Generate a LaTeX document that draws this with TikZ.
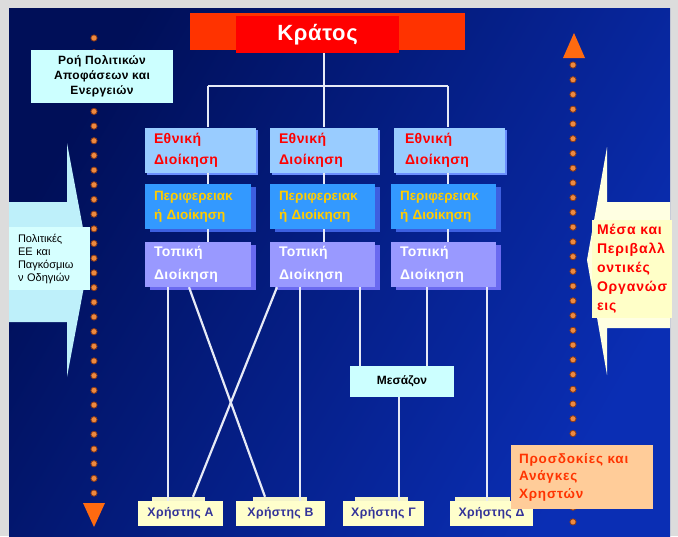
\documentclass[tikz,border=0pt]{standalone}
\usepackage{fontspec}
\setmainfont{Liberation Sans}
\newfontfamily\widefont[LetterSpace=6]{Liberation Sans}
\newfontfamily\midfont[LetterSpace=3]{Liberation Sans}
\usetikzlibrary{shadows}
\definecolor{bggray}{HTML}{DCDCDC}
\definecolor{bgA}{HTML}{000F58}
\definecolor{bgB}{HTML}{0A2EB4}
\definecolor{krorange}{HTML}{FF3300}
\definecolor{krred}{HTML}{FF0000}
\definecolor{ethfill}{HTML}{99CCFF}
\definecolor{ethtext}{HTML}{FF0000}
\definecolor{perfill}{HTML}{3399FF}
\definecolor{pertext}{HTML}{FFCC00}
\definecolor{pershadow}{HTML}{3D5FE0}
\definecolor{topfill}{HTML}{9999FF}
\definecolor{topshadow}{HTML}{6A6AF0}
\definecolor{connc}{HTML}{E6EAF6}
\definecolor{cyanbox}{HTML}{CCFFFF}
\definecolor{cyanarrow}{HTML}{BEF0FA}
\definecolor{yelbox}{HTML}{FFFFC8}
\definecolor{yelarrow}{HTML}{FFFFE2}
\definecolor{userfill}{HTML}{FFFFCC}
\definecolor{userback}{HTML}{F4F4C8}
\definecolor{usertext}{HTML}{333399}
\definecolor{peach}{HTML}{FFCC99}
\definecolor{peachtext}{HTML}{FF3300}
\definecolor{dotfill}{HTML}{EE8A40}
\definecolor{dotring}{HTML}{8A3A18}
\definecolor{tric}{HTML}{FF6A10}
\begin{document}
\begin{tikzpicture}[x=1pt,y=-1pt,
  conn/.style={draw=connc,line width=2.2pt},
  adminbox/.style={rectangle,inner ysep=0pt,inner xsep=9pt,text width=92pt,align=left,minimum height=45pt},
  ebox/.style={adminbox,fill=ethfill,text=ethtext,font=\midfont\fontsize{14}{21}\selectfont\bfseries,
     drop shadow={shadow xshift=2pt,shadow yshift=-2pt,fill=ethfill!70!blue,opacity=1}},
  pbox/.style={adminbox,text width=88pt,fill=perfill,text=pertext,font=\fontsize{13.5}{18.5}\selectfont\bfseries,
     drop shadow={shadow xshift=5pt,shadow yshift=-3pt,fill=pershadow,opacity=1}},
  tbox/.style={adminbox,text width=88pt,fill=topfill,text=white,font=\midfont\fontsize{14}{23}\selectfont\bfseries,
     drop shadow={shadow xshift=5pt,shadow yshift=-3pt,fill=topshadow,opacity=1}},
  userbox/.style={rectangle,fill=userfill,text=usertext,font=\midfont\fontsize{12.3}{14}\selectfont\bfseries,
     inner sep=0pt,minimum height=25pt},
  dotstyle/.style={fill=dotfill,draw=dotring,line width=0.8pt}
]
\useasboundingbox (0,0) rectangle (678,536);
\fill[bggray] (0,0) rectangle (678,536);
\shade[left color=bgA,right color=bgB,shading angle=60] (9,8) rectangle (670,536);

% big side arrows
\fill[cyanarrow] (9,202) -- (67,202) -- (67,143) -- (89,260) -- (67,377) -- (67,322) -- (9,322) -- cycle;
\fill[yelarrow] (670,202) -- (607,202) -- (607,147) -- (587,260) -- (607,375) -- (607,328) -- (670,328) -- cycle;

% dotted flow arrows
\foreach \i in {0,...,31} \filldraw[dotstyle] (94,38+14.68*\i) circle (3.1pt);
\fill[tric] (83,503) -- (105,503) -- (94,527) -- cycle;
\foreach \i in {0,...,31} \filldraw[dotstyle] (573,65+14.74*\i) circle (3.1pt);
\fill[tric] (563,58) -- (585,58) -- (574,33) -- cycle;

% Kratos
\node[fill=krorange,minimum width=275pt,minimum height=37pt,inner sep=0pt] (krbar) at (327.5,31.5) {};
\node[fill=krred,minimum width=163pt,minimum height=37pt,inner sep=0pt,text=white,
      font=\midfont\fontsize{22}{26}\selectfont\bfseries] (kr) at (317.5,34.5) {Κράτος};

% admin columns
\node[ebox,text width=93pt] (e1) at (200.5,150) {Εθνική\\Διοίκηση};
\node[ebox,text width=90pt] (e2) at (324,150) {Εθνική\\Διοίκηση};
\node[ebox,text width=89pt,inner xsep=11pt] (e3) at (449.5,150) {Εθνική\\Διοίκηση};

\node[pbox] (p1) at (198,206.5) {Περιφερειακ\\ή Διοίκηση};
\node[pbox,text width=87pt] (p2) at (322.5,206.5) {Περιφερειακ\\ή Διοίκηση};
\node[pbox,text width=87pt] (p3) at (443.5,206.5) {Περιφερειακ\\ή Διοίκηση};

\node[tbox] (t1) at (198,264.5) {Τοπική\\Διοίκηση};
\node[tbox,text width=87pt] (t2) at (322.5,264.5) {Τοπική\\Διοίκηση};
\node[tbox,text width=87pt] (t3) at (443.5,264.5) {Τοπική\\Διοίκηση};

% tree connectors
\coordinate (hub) at (324,86);
\coordinate (hl) at (208,86);
\coordinate (hr) at (448,86);
\draw[conn] (kr.south -| hub) -- (hub);
\draw[conn] (hl) -- (hr);
\draw[conn] (hl) -- (e1.north -| hl);
\draw[conn] (hub) -- (e2.north -| hub);
\draw[conn] (hr) -- (e3.north -| hr);
\draw[conn] (e1.south -| hl) -- (p1.north -| hl);
\draw[conn] (p1.south -| hl) -- (t1.north -| hl);
\draw[conn] (e2.south -| hub) -- (p2.north -| hub);
\draw[conn] (p2.south -| hub) -- (t2.north -| hub);
\draw[conn] (e3.south -| hr) -- (p3.north -| hr);
\draw[conn] (p3.south -| hr) -- (t3.north -| hr);

% intermediary and users
\node[rectangle,fill=cyanbox,minimum width=104pt,minimum height=31pt,inner sep=0pt,
      font=\fontsize{12}{14}\selectfont\bfseries] (mes) at (402,381.5) {Μεσάζον};

\fill[userback] (152,497) rectangle (205,502);
\fill[userback] (253,497) rectangle (307,502);
\fill[userback] (355,497) rectangle (408,502);
\fill[userback] (455,497) rectangle (510,502);
\node[userbox,minimum width=85pt] (uA) at (180.5,513.5) {Χρήστης Α};
\node[userbox,minimum width=89pt] (uB) at (280.5,513.5) {Χρήστης Β};
\node[userbox,minimum width=81pt] (uG) at (383.5,513.5) {Χρήστης Γ};
\node[userbox,minimum width=83pt] (uD) at (491.5,513.5) {Χρήστης Δ};

\draw[conn] (t1.south -| 168,0) -- (uA.north -| 168,0);
\draw[conn] (t1.south -| 189,0) -- ([yshift=4pt]uB.north -| 265,0);
\draw[conn] (t2.south -| 277,0) -- ([yshift=4pt]uA.north -| 193,0);
\draw[conn] (t2.south -| 300,0) -- (uB.north -| 300,0);
\draw[conn] (t2.south -| 360,0) -- (mes.north -| 360,0);
\draw[conn] (t3.south -| 427,0) -- (mes.north -| 427,0);
\draw[conn] (mes.south -| 399,0) -- (uG.north -| 399,0);
\draw[conn] (t3.south -| 487,0) -- (uD.north -| 487,0);

% side labels
\node[rectangle,fill=cyanbox,minimum width=142pt,minimum height=53pt,inner sep=0pt,align=center,
      font=\midfont\fontsize{12}{15}\selectfont\bfseries] (roi) at (102,76.5) {Ροή Πολιτικών\\Αποφάσεων και\\Ενεργειών};
\node[rectangle,fill=cyanbox!80!white,minimum height=63pt,inner ysep=0pt,inner xsep=9pt,text width=63pt,align=left,
      font=\fontsize{11}{13}\selectfont] (pol) at (49.5,258.5) {Πολιτικές\\ΕΕ και\\Παγκόσμιω\\ν Οδηγιών};
\node[rectangle,fill=yelbox,minimum height=98pt,inner ysep=0pt,inner xsep=5pt,text width=70pt,align=left,
      text=krred,font=\widefont\fontsize{14}{19}\selectfont\bfseries] (mesa) at (632,269) {Μέσα και\\Περιβαλλ\\οντικές\\Οργανώσ\\εις};
\node[rectangle,fill=peach,minimum height=64pt,inner ysep=0pt,inner xsep=8pt,text width=126pt,align=left,
      text=peachtext,font=\widefont\fontsize{13.5}{17.5}\selectfont\bfseries] (pros) at (582,477) {Προσδοκίες και\\Ανάγκες\\Χρηστών};
\end{tikzpicture}
\end{document}
